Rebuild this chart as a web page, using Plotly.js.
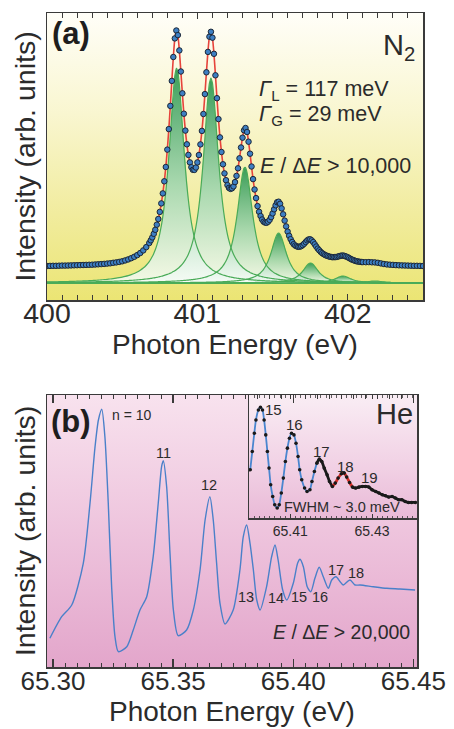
<!DOCTYPE html>
<html>
<head>
<meta charset="utf-8">
<script src="https://cdn.plot.ly/plotly-3.0.1.min.js"></script>
<style>
  html, body { margin: 0; padding: 0; background: #ffffff; }
  #wrap { position: relative; width: 454px; height: 729px; overflow: hidden; }
  .bg { position: absolute; }
  #bgA { left: 47px; top: 13px; width: 376px; height: 287px;
         background: linear-gradient(to bottom, #fffef8 0%, #f9f6d0 35%, #f1ec9e 70%, #ebe574 100%); }
  #bgB { left: 47px; top: 395px; width: 370px; height: 272px;
         background: linear-gradient(to bottom, #f8e2ee 0%, #eec4dd 50%, #e3a6cb 100%); }
  #bgI { left: 249px; top: 395px; width: 168px; height: 123px;
         background: linear-gradient(to bottom, #f9edf4 0%, #f1d0e4 60%, #e9bad7 100%); }
  #chart { position: absolute; left: 0; top: 0; width: 454px; height: 729px; }
</style>
</head>
<body>
<div id="wrap">
  <div class="bg" id="bgA"></div>
  <div class="bg" id="bgB"></div>
  <div class="bg" id="bgI"></div>
  <div id="chart"></div>
</div>
<script>
// ---------------- Panel (a): N2 ----------------
const energyA = [
  400.00,400.02,400.04,400.06,400.08,400.10,400.12,400.14,400.16,400.18,
  400.20,400.22,400.24,400.26,400.28,400.30,400.32,400.34,400.36,400.38,
  400.40,400.42,400.44,400.46,400.48,400.50,400.52,400.54,400.56,400.58,
  400.60,400.62,400.64,400.66,400.68,400.69,
  400.70,400.71,400.72,400.73,400.74,400.75,400.76,400.77,400.78,400.79,
  400.80,400.81,400.82,400.83,400.84,400.85,400.86,400.87,400.88,400.89,
  400.90,400.91,400.92,400.93,400.94,400.95,400.96,400.97,400.98,400.99,
  401.00,401.01,401.02,401.03,401.04,401.05,401.06,401.07,401.08,401.09,
  401.10,401.11,401.12,401.13,401.14,401.15,401.16,401.17,401.18,401.19,
  401.20,401.21,401.22,401.23,401.24,401.25,401.26,401.27,401.28,401.29,
  401.30,401.31,401.32,401.33,401.34,401.35,401.36,401.37,401.38,401.39,
  401.40,401.41,401.42,401.43,401.44,401.45,401.46,401.47,401.48,401.49,
  401.50,401.51,401.52,401.53,401.54,401.55,401.56,401.57,401.58,401.59,
  401.60,401.61,401.62,401.63,401.64,401.65,401.66,401.67,401.68,401.69,
  401.70,401.71,401.72,401.73,401.74,401.75,401.76,401.77,401.78,401.79,
  401.80,401.81,401.82,401.83,401.84,401.85,401.86,401.87,401.88,401.89,
  401.90,401.91,401.92,401.93,401.94,401.95,401.96,401.97,401.98,401.99,
  402.00,402.01,402.02,402.03,402.04,402.05,402.06,402.07,402.08,402.09,
  402.10,402.12,402.14,402.16,402.18,402.20,402.22,402.24,402.26,402.28,
  402.30,402.32,402.34,402.36,402.38,402.40,402.42,402.44,402.46,402.48,402.50
];
const intensityA = [
  17.0,17.1,17.2,17.2,17.3,17.4,17.4,17.5,17.6,17.7,
  17.8,17.9,18.0,18.1,18.2,18.3,18.5,18.7,18.9,19.1,
  19.4,19.7,20.2,20.6,21.1,21.7,22.6,23.6,24.8,26.2,
  27.9,30.0,32.6,35.9,40.0,42.7,
  45.6,49.2,53.2,58.3,64.0,71.1,79.6,89.6,101.7,116.0,
  133.4,153.9,177.1,202.1,226.0,244.6,252.5,247.9,232.6,211.5,
  189.7,169.3,152.4,138.7,128.1,120.6,115.8,113.2,113.1,115.5,
  120.6,128.0,138.6,152.1,169.0,188.9,210.7,231.1,246.3,251.2,
  245.3,229.2,207.7,184.8,163.9,145.6,131.0,118.7,109.6,102.8,
  97.9,95.1,94.1,94.7,96.6,100.9,107.1,114.7,124.7,135.5,
  145.3,152.7,155.0,151.0,141.3,129.3,116.5,103.9,93.5,84.9,
  76.9,71.2,67.0,63.5,61.3,60.4,60.2,61.3,63.1,65.9,
  69.6,73.7,77.7,80.8,81.3,79.2,74.6,68.7,62.4,56.6,
  51.4,47.2,43.8,41.0,38.8,37.5,36.7,36.2,36.3,36.8,
  37.9,39.3,41.0,42.6,43.6,43.7,42.6,40.9,38.7,36.5,
  34.4,32.7,31.1,29.8,28.8,27.9,27.3,26.8,26.3,26.0,
  25.8,25.9,25.9,26.2,26.7,27.1,27.4,27.4,27.0,26.4,
  25.7,24.9,24.0,23.3,22.7,22.1,21.7,21.4,21.2,21.0,
  20.9,20.8,20.9,20.7,20.6,20.2,19.6,19.0,18.6,18.3,
  18.1,17.9,17.7,17.6,17.5,17.4,17.3,17.2,17.2,17.1,17.0
];
// Fitted vibrational components (Voigt): centres (eV) and heights (arb. units)
const compCenter = [400.862, 401.090, 401.316, 401.540, 401.752, 401.968, 402.180];
const compHeight = [215, 205, 116, 50, 20, 7, 2];
const GAMMA_L = 0.117;   // eV, Lorentzian FWHM
const GAMMA_G = 0.029;   // eV, Gaussian FWHM

// ---------------- Panel (b): He ----------------
const energyB = [
  65.2987,65.3036,65.3078,65.3126,65.3154,65.3175,65.3189,65.3203,65.3216,65.3230,
  65.3244,65.3258,65.3272,65.3307,65.3334,65.3362,65.3390,65.3417,65.3438,65.3452,
  65.3459,65.3473,65.3487,65.3501,65.3521,65.3556,65.3584,65.3612,65.3633,65.3653,
  65.3667,65.3681,65.3695,65.3716,65.3750,65.3778,65.3792,65.3806,65.3820,65.3834,
  65.3848,65.3862,65.3889,65.3910,65.3924,65.3937,65.3956,65.3973,65.4000,65.4018,
  65.4028,65.4042,65.4058,65.4073,65.4090,65.4108,65.4125,65.4146,65.4160,65.4178,
  65.4195,65.4208,65.4236,65.4257,65.4278,65.4333,65.4389,65.4444,65.4507
];
const intensityB = [
  28.7,50.3,62.0,103.7,163.7,220.3,247.0,257.7,230.3,163.7,
  80.3,30.3,15.3,20.3,37.0,57.0,70.3,110.3,163.7,200.3,
  206.3,180.3,113.7,57.0,31.3,37.0,57.0,97.0,147.0,170.3,
  147.0,103.7,63.7,43.0,57.0,97.0,130.3,142.0,123.7,97.0,
  67.0,57.0,80.3,110.3,122.0,107.0,77.0,67.0,83.7,103.7,
  107.7,100.3,80.3,75.3,88.7,99.7,90.3,78.7,87.0,90.3,
  85.3,82.0,87.0,82.0,82.0,80.3,78.7,78.0,77.0
];
const peakLabelsB = ['n = 10','11','12','13','14','15','16','17','18'];

// Inset (high-resolution scan)
const energyInset = [
  65.4002,65.4007,65.4012,65.4016,65.4022,65.4027,65.4032,65.4036,65.4040,65.4044,
  65.4048,65.4052,65.4057,65.4062,65.4068,65.4073,65.4078,65.4083,65.4088,65.4093,
  65.4098,65.4103,65.4109,65.4114,65.4119,65.4123,65.4128,65.4135,65.4141,65.4148,
  65.4153,65.4159,65.4165,65.4171,65.4177,65.4183,65.4190,65.4196,65.4203,65.4210,
  65.4217,65.4225,65.4232,65.4238,65.4245,65.4252,65.4260,65.4268,65.4276,65.4284,
  65.4292,65.4300,65.4309,65.4317,65.4325,65.4333,65.4341,65.4349,65.4357,65.4365,
  65.4373,65.4381,65.4389,65.4397,65.4406
];
const intensityInset = [
  48.3,66.6,85.0,98.3,108.3,111.0,108.3,98.3,83.3,66.6,
  50.0,33.3,21.6,13.3,10.0,13.3,25.0,40.0,56.6,70.0,
  80.0,85.0,83.3,75.0,61.6,48.3,38.3,30.0,26.6,28.3,
  36.6,46.6,55.0,59.0,56.6,50.0,43.3,36.6,31.6,35.0,
  40.0,44.3,45.0,41.0,35.6,31.0,30.0,31.0,31.6,31.6,
  31.0,28.3,26.6,25.0,23.3,22.3,21.0,21.6,20.0,18.3,
  18.3,16.6,15.6,15.6,15.6
];
const insetLabels = ['15','16','17','18','19'];
const insetTickVals = [65.41, 65.43];
const insetTickText = ['65.41', '65.43'];
const tickValsA = [400, 401, 402];
const tickValsB = [65.30, 65.35, 65.40, 65.45];
const tickTextB = ['65.30', '65.35', '65.40', '65.45'];

// ---------------- helpers ----------------
function voigt(x, c) {
  const fL = GAMMA_L, fG = GAMMA_G;
  const f = 0.5346 * fL + Math.sqrt(0.2166 * fL * fL + fG * fG);
  const r = fL / f;
  const eta = 1.36603 * r - 0.47719 * r * r + 0.11116 * r * r * r;
  const d = x - c;
  const L = 1 / (1 + Math.pow(2 * d / f, 2));
  const G = Math.exp(-4 * Math.LN2 * Math.pow(d / f, 2));
  return eta * L + (1 - eta) * G;
}
const W = 454, H = 729;
const px = v => v / W;
const py = v => 1 - v / H;
const FONT = 'Liberation Sans, Arial, Helvetica, sans-serif';
const TXT = '#2b2b2b';
const AX = '#3a3a3a';

const traces = [];

// Component fills
compCenter.forEach((c, i) => {
  traces.push({
    x: energyA, y: energyA.map(e => compHeight[i] * voigt(e, c)),
    xaxis: 'x', yaxis: 'y', type: 'scatter', mode: 'lines',
    line: { width: 0 }, fill: 'tozeroy',
    fillgradient: { type: 'vertical',
      colorscale: [[0, 'rgba(246,252,248,0.85)'], [0.45, 'rgba(160,214,176,0.88)'], [1, 'rgba(48,152,82,0.95)']] },
    hoverinfo: 'skip', showlegend: false
  });
});
// Component outlines
compCenter.forEach((c, i) => {
  traces.push({
    x: energyA, y: energyA.map(e => compHeight[i] * voigt(e, c)),
    xaxis: 'x', yaxis: 'y', type: 'scatter', mode: 'lines',
    line: { color: '#4aab58', width: 1.2, shape: 'spline', smoothing: 0.6 },
    hoverinfo: 'skip', showlegend: false
  });
});
// Measured data with fit line
traces.push({
  x: energyA, y: intensityA, xaxis: 'x', yaxis: 'y', type: 'scatter',
  mode: 'lines+markers',
  line: { color: '#e6433b', width: 1.6, shape: 'spline', smoothing: 0.6 },
  marker: { size: 5.5, color: '#3d7fc3', line: { color: '#1c2737', width: 1 } },
  showlegend: false
});

// Panel (b) main curve
traces.push({
  x: energyB, y: intensityB, xaxis: 'x2', yaxis: 'y2', type: 'scatter', mode: 'lines',
  line: { color: '#4a80c9', width: 1.4, shape: 'spline', smoothing: 0.7 },
  showlegend: false
});

// Inset segments
const seg = (a, b, color, width) => ({
  x: energyInset.slice(a, b), y: intensityInset.slice(a, b),
  xaxis: 'x3', yaxis: 'y3', type: 'scatter', mode: 'lines',
  line: { color: color, width: width, shape: 'spline', smoothing: 0.6 },
  hoverinfo: 'skip', showlegend: false
});
traces.push(seg(0, 33, '#4a86cf', 1.8));
traces.push(seg(32, 39, '#1a1a1a', 2.8));
traces.push(seg(38, 46, '#d83029', 2.8));
traces.push(seg(45, energyInset.length, '#1a1a1a', 2.8));
traces.push({
  x: energyInset, y: intensityInset, xaxis: 'x3', yaxis: 'y3', type: 'scatter', mode: 'markers',
  marker: { size: 3.6, color: '#1a1a1a' }, showlegend: false
});

const frame = { showline: true, linecolor: AX, linewidth: 1.5, showgrid: false, zeroline: false };

const layout = {
  width: W, height: H,
  margin: { l: 0, r: 0, t: 0, b: 0 },
  paper_bgcolor: 'rgba(0,0,0,0)', plot_bgcolor: 'rgba(0,0,0,0)',
  font: { family: FONT, color: TXT },
  showlegend: false,
  xaxis: Object.assign({}, frame, {
    domain: [px(47), px(423)], anchor: 'y', range: [400, 402.5],
    mirror: 'ticks', ticks: 'inside', ticklen: 6, tickwidth: 1.2, tickcolor: AX,
    tickvals: tickValsA, tickfont: { size: 28.5, color: TXT }, ticklabelstandoff: -13,
    minor: { dtick: 0.1, tick0: 400, ticks: 'inside', ticklen: 5, tickwidth: 1, tickcolor: AX },
    title: { text: 'Photon Energy (eV)', font: { size: 28, color: TXT }, standoff: 0 }
  }),
  yaxis: Object.assign({}, frame, {
    domain: [py(300), py(13)], anchor: 'x', range: [-17, 270],
    mirror: true, ticks: '', showticklabels: false,
    zeroline: true, zerolinecolor: '#4cb35c', zerolinewidth: 2.2,
    title: { text: 'Intensity (arb. units)', font: { size: 28.5, color: TXT }, standoff: 1 }
  }),
  xaxis2: Object.assign({}, frame, {
    domain: [px(47), px(417)], anchor: 'y2', range: [65.2975, 65.4515],
    mirror: 'ticks', ticks: 'inside', ticklen: 8, tickwidth: 1.3, tickcolor: AX,
    tickvals: tickValsB, ticktext: tickTextB, tickfont: { size: 26, color: TXT }, ticklabelstandoff: -10,
    minor: { dtick: 0.005, tick0: 65.30, ticks: 'inside', ticklen: 4, tickwidth: 1, tickcolor: AX },
    title: { text: 'Photon Energy (eV)', font: { size: 28, color: TXT }, standoff: 0 }
  }),
  yaxis2: Object.assign({}, frame, {
    domain: [py(667), py(395)], anchor: 'x2', range: [0, 272],
    mirror: true, ticks: '', showticklabels: false,
    title: { text: 'Intensity (arb. units)', font: { size: 28.5, color: TXT }, standoff: 1 }
  }),
  xaxis3: Object.assign({}, frame, {
    domain: [px(249), px(417)], anchor: 'y3', range: [65.3999, 65.441],
    mirror: 'ticks', ticks: 'inside', ticklen: 4, tickwidth: 1, tickcolor: AX,
    tickvals: insetTickVals, ticktext: insetTickText, tickfont: { size: 14, color: TXT },
    minor: { dtick: 0.00125, tick0: 65.40, ticks: 'inside', ticklen: 2.5, tickwidth: 0.8, tickcolor: AX }
  }),
  yaxis3: Object.assign({}, frame, {
    domain: [py(518), py(395)], anchor: 'x3', range: [0, 123.3],
    mirror: true, ticks: '', showticklabels: false
  }),
  annotations: [
    // panel (a)
    { text: '<b>(a)</b>', x: px(71), y: py(33), xref: 'paper', yref: 'paper', showarrow: false,
      font: { size: 31, color: '#1e1e1e' }, xanchor: 'center', yanchor: 'middle' },
    { text: 'N<sub>2</sub>', x: px(417), y: py(47), xref: 'paper', yref: 'paper', showarrow: false,
      font: { size: 29, color: TXT }, xanchor: 'right', yanchor: 'middle' },
    { text: '<i>Γ</i><sub>L</sub> = 117 meV', x: px(257), y: py(90), xref: 'paper', yref: 'paper', showarrow: false,
      font: { size: 21.5, color: TXT }, xanchor: 'left', yanchor: 'middle' },
    { text: '<i>Γ</i><sub>G</sub> = 29 meV', x: px(257), y: py(116), xref: 'paper', yref: 'paper', showarrow: false,
      font: { size: 21.5, color: TXT }, xanchor: 'left', yanchor: 'middle' },
    { text: '<i>E</i> / Δ<i>E</i> > 10,000', x: px(258), y: py(166), xref: 'paper', yref: 'paper', showarrow: false,
      font: { size: 21.5, color: TXT }, xanchor: 'left', yanchor: 'middle' },
    // panel (b)
    { text: '<b>(b)</b>', x: px(71), y: py(421), xref: 'paper', yref: 'paper', showarrow: false,
      font: { size: 31, color: '#1e1e1e' }, xanchor: 'center', yanchor: 'middle' },
    { text: peakLabelsB[0], x: px(110), y: py(415), xref: 'paper', yref: 'paper', showarrow: false,
      font: { size: 14, color: TXT }, xanchor: 'left', yanchor: 'middle' },
    { text: peakLabelsB[1], x: px(163.5), y: py(453), xref: 'paper', yref: 'paper', showarrow: false,
      font: { size: 14.5, color: TXT }, xanchor: 'center', yanchor: 'middle' },
    { text: peakLabelsB[2], x: px(209), y: py(485), xref: 'paper', yref: 'paper', showarrow: false,
      font: { size: 14.5, color: TXT }, xanchor: 'center', yanchor: 'middle' },
    { text: peakLabelsB[3], x: px(246), y: py(597), xref: 'paper', yref: 'paper', showarrow: false,
      font: { size: 14.5, color: TXT }, xanchor: 'center', yanchor: 'middle' },
    { text: peakLabelsB[4], x: px(276), y: py(598), xref: 'paper', yref: 'paper', showarrow: false,
      font: { size: 14.5, color: TXT }, xanchor: 'center', yanchor: 'middle' },
    { text: peakLabelsB[5], x: px(299), y: py(597), xref: 'paper', yref: 'paper', showarrow: false,
      font: { size: 14.5, color: TXT }, xanchor: 'center', yanchor: 'middle' },
    { text: peakLabelsB[6], x: px(320), y: py(597), xref: 'paper', yref: 'paper', showarrow: false,
      font: { size: 14.5, color: TXT }, xanchor: 'center', yanchor: 'middle' },
    { text: peakLabelsB[7], x: px(336), y: py(570), xref: 'paper', yref: 'paper', showarrow: false,
      font: { size: 14.5, color: TXT }, xanchor: 'center', yanchor: 'middle' },
    { text: peakLabelsB[8], x: px(356), y: py(573), xref: 'paper', yref: 'paper', showarrow: false,
      font: { size: 14.5, color: TXT }, xanchor: 'center', yanchor: 'middle' },
    { text: '<i>E</i> / Δ<i>E</i> > 20,000', x: px(271), y: py(632), xref: 'paper', yref: 'paper', showarrow: false,
      font: { size: 19.5, color: TXT }, xanchor: 'left', yanchor: 'middle' },
    // inset
    { text: 'He', x: px(415), y: py(414), xref: 'paper', yref: 'paper', showarrow: false,
      font: { size: 29, color: TXT }, xanchor: 'right', yanchor: 'middle' },
    { text: insetLabels[0], x: px(273), y: py(409), xref: 'paper', yref: 'paper', showarrow: false,
      font: { size: 15, color: TXT }, xanchor: 'center', yanchor: 'middle' },
    { text: insetLabels[1], x: px(294), y: py(424), xref: 'paper', yref: 'paper', showarrow: false,
      font: { size: 15, color: TXT }, xanchor: 'center', yanchor: 'middle' },
    { text: insetLabels[2], x: px(321), y: py(451), xref: 'paper', yref: 'paper', showarrow: false,
      font: { size: 15, color: TXT }, xanchor: 'center', yanchor: 'middle' },
    { text: insetLabels[3], x: px(345), y: py(466), xref: 'paper', yref: 'paper', showarrow: false,
      font: { size: 15, color: TXT }, xanchor: 'center', yanchor: 'middle' },
    { text: insetLabels[4], x: px(369), y: py(477), xref: 'paper', yref: 'paper', showarrow: false,
      font: { size: 15, color: TXT }, xanchor: 'center', yanchor: 'middle' },
    { text: 'FWHM ~ 3.0 meV', x: px(342), y: py(507), xref: 'paper', yref: 'paper', showarrow: false,
      font: { size: 14.5, color: TXT }, xanchor: 'center', yanchor: 'middle' }
  ]
};

Plotly.newPlot('chart', traces, layout, { staticPlot: true, displayModeBar: false });
</script>
</body>
</html>
